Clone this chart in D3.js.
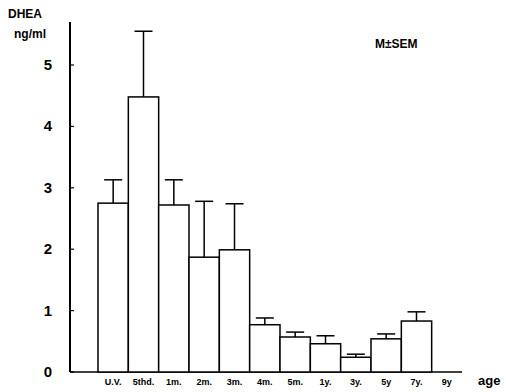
<html>
<head>
<meta charset="utf-8">
<script src="https://d3js.org/d3.v7.min.js"></script>
<style>
  body { margin:0; background:#fff; }
  text { font-family: "Liberation Sans", Arial, sans-serif; fill:#000; }
</style>
</head>
<body>
<svg id="chart" width="506" height="392"></svg>
<script>
var ages = ["U.V.", "5thd.", "1m.", "2m.", "3m.", "4m.", "5m.", "1y.", "3y.", "5y", "7y.", "9y"];
var dhea = [2.75, 4.48, 2.72, 1.87, 1.99, 0.77, 0.57, 0.46, 0.24, 0.54, 0.83, null];
var sem  = [0.38, 1.07, 0.41, 0.91, 0.75, 0.11, 0.08, 0.13, 0.05, 0.08, 0.15, null];
var yTicks = [0, 1, 2, 3, 4, 5];

var svg = d3.select("#chart");
var x = d3.scaleBand().domain(ages).range([98, 462]).padding(0);
var y = d3.scaleLinear().domain([0, 5]).range([372, 65]);

// y axis
svg.append("line").attr("x1", 70).attr("x2", 70)
  .attr("y1", y(5.7)).attr("y2", y(0)).attr("stroke", "#000").attr("stroke-width", 2);
svg.selectAll(".yt").data(yTicks).enter().append("line")
  .attr("x1", 70).attr("x2", 74).attr("y1", d => y(d)).attr("y2", d => y(d))
  .attr("stroke", "#000").attr("stroke-width", 1.2);
svg.selectAll(".yl").data(yTicks).enter().append("text")
  .attr("x", 52).attr("y", d => y(d) + 5).attr("text-anchor", "end")
  .attr("font-size", 15).attr("font-weight", "bold").text(d => d);

// x baseline
svg.append("line").attr("x1", 70).attr("x2", 462).attr("y1", y(0)).attr("y2", y(0))
  .attr("stroke", "#000").attr("stroke-width", 1.6);

var bars = ages.map((a, i) => ({ a: a, v: dhea[i], e: sem[i] })).filter(d => d.v != null);

// error bars
svg.selectAll(".eb").data(bars).enter().append("line")
  .attr("x1", d => x(d.a) + x.bandwidth() / 2).attr("x2", d => x(d.a) + x.bandwidth() / 2)
  .attr("y1", d => y(d.v)).attr("y2", d => y(d.v + d.e))
  .attr("stroke", "#000").attr("stroke-width", 1.5);
svg.selectAll(".ec").data(bars).enter().append("line")
  .attr("x1", d => x(d.a) + x.bandwidth() / 2 - 9).attr("x2", d => x(d.a) + x.bandwidth() / 2 + 9)
  .attr("y1", d => y(d.v + d.e)).attr("y2", d => y(d.v + d.e))
  .attr("stroke", "#000").attr("stroke-width", 1.5);

// bars
svg.selectAll("rect").data(bars).enter().append("rect")
  .attr("x", d => x(d.a)).attr("width", x.bandwidth())
  .attr("y", d => y(d.v)).attr("height", d => y(0) - y(d.v))
  .attr("fill", "#fff").attr("stroke", "#000").attr("stroke-width", 1.5);

// category labels
svg.selectAll(".xl").data(ages).enter().append("text")
  .attr("x", d => x(d) + x.bandwidth() / 2).attr("y", 385)
  .attr("text-anchor", "middle").attr("font-size", 9).attr("font-weight", "bold")
  .text(d => d);

svg.append("text").attr("x", 478).attr("y", 385).attr("font-size", 13)
  .attr("font-weight", "bold").text("age");
svg.append("text").attr("x", 8).attr("y", 18).attr("font-size", 12)
  .attr("font-weight", "bold").text("DHEA");
svg.append("text").attr("x", 14).attr("y", 38).attr("font-size", 12)
  .attr("font-weight", "bold").text("ng/ml");
svg.append("text").attr("x", 375).attr("y", 48).attr("font-size", 12)
  .attr("font-weight", "bold").text("M\u00b1SEM");
</script>
</body>
</html>
